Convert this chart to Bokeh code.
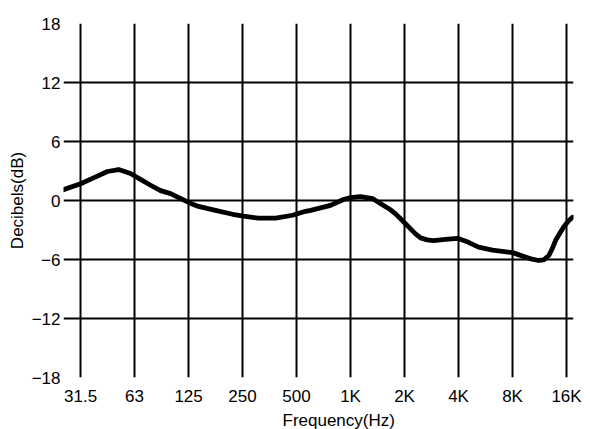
from bokeh.plotting import figure
from bokeh.models import FixedTicker, CustomJSTickFormatter, Range1d, Title
from bokeh.embed import file_html
from bokeh.resources import INLINE

# ---- data ----
freq_hz = [25.3, 31.5, 37.2, 44.5, 51.3, 59.8, 68.0, 77.4, 87.9, 100, 126, 143, 178,
           222, 255, 309, 385, 479, 566, 604, 780, 921, 1008, 1146, 1337, 1540,
           1685, 1796, 1915, 2042, 2177, 2322, 2476, 2697, 2925, 3411, 3979, 4584,
           5211, 6240, 8064, 9529, 10385, 11260, 12050, 12850, 13420, 14000, 14740,
           15520, 16480, 17420]
level_db = [1.1, 1.7, 2.3, 2.95, 3.15, 2.75, 2.15, 1.55, 1.0, 0.7, -0.2, -0.6, -1.0,
            -1.4, -1.6, -1.8, -1.8, -1.5, -1.1, -1.0, -0.5, 0.1, 0.3, 0.4, 0.2, -0.5,
            -0.95, -1.36, -1.86, -2.37, -2.88, -3.39, -3.8, -4.0, -4.07, -3.95, -3.85, -4.25,
            -4.75, -5.05, -5.3, -5.76, -5.97, -6.1, -6.03, -5.59, -4.91, -4.07, -3.39,
            -2.71, -2.1, -1.7]

x_tick_hz = [31.5, 63, 126, 252, 504, 1008, 2016, 4032, 8064, 16128]
x_tick_labels = ["31.5", "63", "125", "250", "500", "1K", "2K", "4K", "8K", "16K"]
y_ticks = [-18, -12, -6, 0, 6, 12, 18]

FONT = "Liberation Sans"

p = figure(width=590, height=429, x_axis_type="log",
           x_range=Range1d(25.3, 17640), y_range=Range1d(-18, 18),
           output_backend="svg", toolbar_location=None,
           min_border_left=63, min_border_right=17, min_border_top=23, min_border_bottom=51)
p.outline_line_color = None
p.background_fill_color = "white"
p.border_fill_color = "white"

p.xaxis.ticker = FixedTicker(ticks=x_tick_hz, minor_ticks=[])
p.xaxis.formatter = CustomJSTickFormatter(args=dict(vals=x_tick_hz, labs=x_tick_labels), code="""
    for (let i = 0; i < vals.length; i++) {
        if (Math.abs(Math.log(vals[i] / tick)) < 0.01) return labs[i];
    }
    return "";
""")
p.yaxis.ticker = FixedTicker(ticks=y_ticks, minor_ticks=[])
p.yaxis.formatter = CustomJSTickFormatter(code="""
    return tick < 0 ? "\\u2212" + Math.abs(tick) : String(tick);
""")

for ax in (p.xaxis[0], p.yaxis[0]):
    ax.axis_line_color = None
    ax.major_tick_line_color = None
    ax.minor_tick_line_color = None
    ax.major_tick_out = 0
    ax.major_tick_in = 0
    ax.major_label_text_font = FONT
    ax.major_label_text_font_size = "17px"
    ax.major_label_text_color = "black"
p.xaxis.major_label_standoff = 9
p.yaxis.major_label_standoff = 3
p.yaxis.axis_label = "Decibels(dB)"
p.yaxis.axis_label_text_font = FONT
p.yaxis.axis_label_text_font_size = "17px"
p.yaxis.axis_label_text_font_style = "normal"
p.yaxis.axis_label_text_color = "black"
p.yaxis.axis_label_standoff = 2

for g in (p.xgrid[0], p.ygrid[0]):
    g.grid_line_color = "black"
    g.grid_line_width = 2
    g.grid_line_alpha = 1.0

p.line(freq_hz, level_db, line_color="black", line_width=4.8, line_join="round", line_cap="round")

p.add_layout(Title(text="Frequency(Hz)", align="left", offset=219, standoff=0,
                   text_font=FONT, text_font_size="17px", text_font_style="normal",
                   text_color="black"), "below")

open("out.html", "w").write(file_html(p, INLINE))
